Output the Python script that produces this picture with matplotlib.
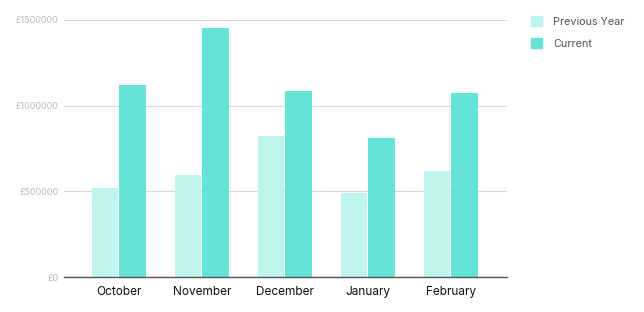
import matplotlib
matplotlib.use('Agg')
import matplotlib.pyplot as plt
import matplotlib.patches as mpatches
import numpy as np

# ── Datos ─────────────────────────────────────────────────────────────────────
months = ['October', 'November', 'December', 'January', 'February']
previous_year = [520000, 595000, 823000, 490000, 619000]
current = [1120000, 1453000, 1086000, 811000, 1074000]
yticks = [0, 500000, 1000000, 1500000]
ytick_labels = ['£0', '£500000', '£1000000', '£1500000']

C_PREV = '#bff4ef'
C_CURR = '#66e3d7'

plt.rcParams['font.family'] = ['Inter', 'DejaVu Sans']

fig = plt.figure(figsize=(6.44, 3.12), dpi=100)
ax = fig.add_axes([0.099, 0.112, 0.688, 0.824])

x = np.arange(len(months))
w = 0.322
ax.bar(x - w / 2 - 0.006, previous_year, width=w, color=C_PREV, zorder=3)
ax.bar(x + w / 2 + 0.006, current, width=w, color=C_CURR, zorder=3)

ax.set_xlim(-0.663, 4.675)
ax.set_ylim(0, 1500000)
ax.set_yticks(yticks)
ax.set_yticklabels(ytick_labels, color='#bbbbbb', fontsize=6.5)
ax.set_xticks(x)
ax.set_xticklabels(months, fontsize=8.5, color='#111111')
ax.tick_params(axis='both', length=0)
ax.tick_params(axis='y', pad=4)
ax.tick_params(axis='x', pad=6.5)

ax.grid(axis='y', color='#d9d9d9', lw=0.8, zorder=0)
ax.set_axisbelow(True)
for s in ['top', 'right', 'left']:
    ax.spines[s].set_visible(False)
ax.spines['bottom'].set_color('#555555')
ax.spines['bottom'].set_linewidth(1.0)
ax.spines['bottom'].set_zorder(4)

handles = [mpatches.Patch(color=C_PREV, label='Previous Year'),
           mpatches.Patch(color=C_CURR, label='Current')]
fig.legend(handles=handles, loc='upper left', bbox_to_anchor=(0.81, 0.98),
           frameon=False, fontsize=7.8, handlelength=1.0, handleheight=1.0,
           labelspacing=1.1, handletextpad=1.0, labelcolor='#555555')

fig.savefig('out.png', dpi=100)
